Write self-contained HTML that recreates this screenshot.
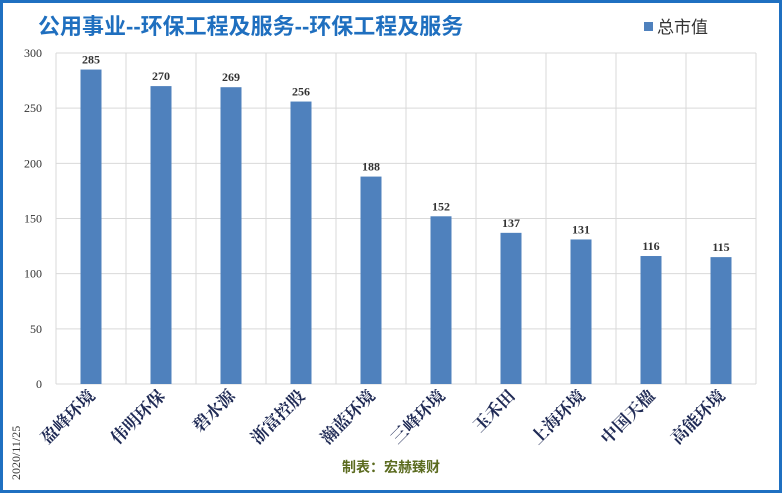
<!DOCTYPE html>
<html><head><meta charset="utf-8"><style>
body{margin:0;background:#fff}
svg{display:block}
</style></head><body>
<svg id="c" width="782" height="493" xmlns="http://www.w3.org/2000/svg">
<rect x="1.5" y="1.5" width="779" height="490" fill="#fff" stroke="#1f70c1" stroke-width="3"/>
<text x="38" y="34" font-family="'Liberation Sans','Noto Sans CJK SC',sans-serif" font-size="22" font-weight="bold" fill="#1f6fbf">公用事业--环保工程及服务--环保工程及服务</text>
<rect x="644" y="22" width="9" height="9" fill="#4f81bd"/>
<text x="657" y="33" font-family="'Liberation Sans','Noto Sans CJK SC',sans-serif" font-size="17" fill="#333">总市值</text>
<text transform="translate(20,480) rotate(-90)" font-family="'Liberation Serif','Noto Serif CJK SC',serif" font-size="12" fill="#333">2020/11/25</text>
<text x="391" y="472" text-anchor="middle" font-family="'Liberation Sans','Noto Sans CJK SC',sans-serif" font-size="14" font-weight="bold" fill="#5b6b1f">制表：宏赫臻财</text>
<g id="grid"></g><g id="bars"></g>
</svg>
<script>
const categories=["盈峰环境","伟明环保","碧水源","浙富控股","瀚蓝环境","三峰环境","玉禾田","上海环境","中国天楹","高能环境"];
const values=[285,270,269,256,188,152,137,131,116,115];
const yTicks=[0,50,100,150,200,250,300];
const NS="http://www.w3.org/2000/svg";
const L=56,R=756,T=53,B=384,yMax=300;
const bw=(R-L)/categories.length;
const y=v=>B-(v/yMax)*(B-T);
const xc=i=>L+bw*(i+0.5);
const svg=document.getElementById('c'),g=document.getElementById('grid'),gb=document.getElementById('bars');
function mk(tag,a,p){const e=document.createElementNS(NS,tag);for(const k in a)e.setAttribute(k,a[k]);p.appendChild(e);return e;}
const serif="'Liberation Serif','Noto Serif CJK SC',serif";
yTicks.forEach(t=>{
 const l=mk('line',{x1:L,x2:R,y1:y(t),y2:y(t),stroke:'#d9d9d9','stroke-width':1},g);
 
 
 const tx=mk('text',{x:42,y:y(t)+4,'text-anchor':'end','font-family':serif,'font-size':12,fill:'#333'},g);
 tx.textContent=t;
 
 
});
for(let i=0;i<=categories.length;i++){
 const l=mk('line',{x1:L+bw*i,x2:L+bw*i,y1:T,y2:B,stroke:'#d9d9d9','stroke-width':1},g);
 
 
}
categories.forEach((c,i)=>{
 const r=mk('rect',{x:xc(i)-10.5,y:y(values[i]),width:21,height:B-y(values[i]),fill:'#4f81bd'},gb);
 
 
 const v=mk('text',{x:xc(i),y:y(values[i])-6,'text-anchor':'middle','font-family':serif,'font-size':12,'font-weight':'bold',fill:'#333'},gb);
 v.textContent=values[i];
 
 
 const cl=mk('text',{transform:`translate(${xc(i)+5},397) rotate(-45)`,'text-anchor':'end','font-family':serif,'font-size':17,'font-weight':'bold',fill:'#1f2a55'},gb);
 cl.textContent=c;
 
 
});
</script>
</body></html>
